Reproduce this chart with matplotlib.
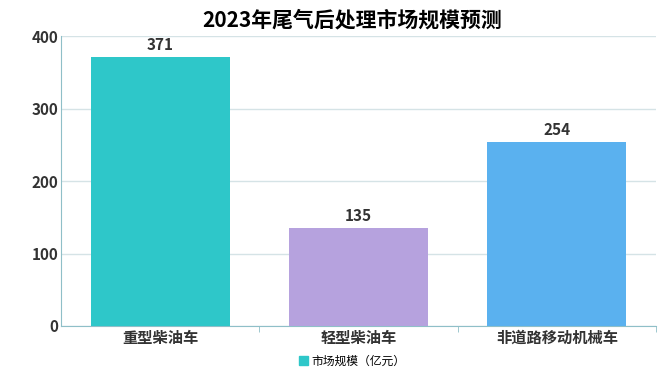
import matplotlib.pyplot as plt
from matplotlib.patches import Patch

plt.rcParams['font.family'] = ['Noto Sans CJK SC', 'DejaVu Sans']

# data
categories = ['重型柴油车', '轻型柴油车', '非道路移动机械车']
values = [371, 135, 254]
colors = ['#2ec7c9', '#b6a2de', '#5ab1ef']

fig = plt.figure(figsize=(6.62, 3.68), dpi=100)
ax = fig.add_axes([61 / 662, 42 / 368, 595 / 662, 290 / 368])

x = list(range(len(categories)))
bars = ax.bar(x, values, width=0.7, color=colors, zorder=3)
for b, v in zip(bars, values):
    ax.text(b.get_x() + b.get_width() / 2, v + 6, str(v), ha='center', va='bottom',
            fontsize=11, fontweight='bold', color='#333333')

ax.set_xlim(-0.5, len(categories) - 0.5)
ax.set_ylim(0, 400)
ax.set_yticks([0, 100, 200, 300, 400])
ax.yaxis.grid(True, color='#d5e3e6', linewidth=1, zorder=0)
ax.set_xticks(x)
ax.set_xticklabels(categories, fontsize=11, fontweight='bold', color='#333333')
ax.set_xticks([0.5, 1.5, 2.5], minor=True)
ax.tick_params(axis='x', which='major', length=0, pad=3)
ax.tick_params(axis='x', which='minor', length=4, color='#8fbfc8')
ax.tick_params(axis='y', length=0, labelsize=11, labelcolor='#333333', pad=2)
for lbl in ax.get_yticklabels():
    lbl.set_fontweight('bold')

for s in ['top', 'right']:
    ax.spines[s].set_visible(False)
for s in ['left', 'bottom']:
    ax.spines[s].set_color('#8fbfc8')

fig.text(352 / 662, 1 - 20 / 368, '2023年尾气后处理市场规模预测', ha='center', va='center',
         fontsize=15, fontweight='bold')

fig.legend(handles=[Patch(color=colors[0])], labels=['市场规模（亿元）'],
           loc='center', bbox_to_anchor=(352 / 662, 7 / 368), frameon=False,
           fontsize=8.5, handlelength=0.8, handleheight=0.8, handletextpad=0.3)

fig.savefig('out.png', dpi=100)
